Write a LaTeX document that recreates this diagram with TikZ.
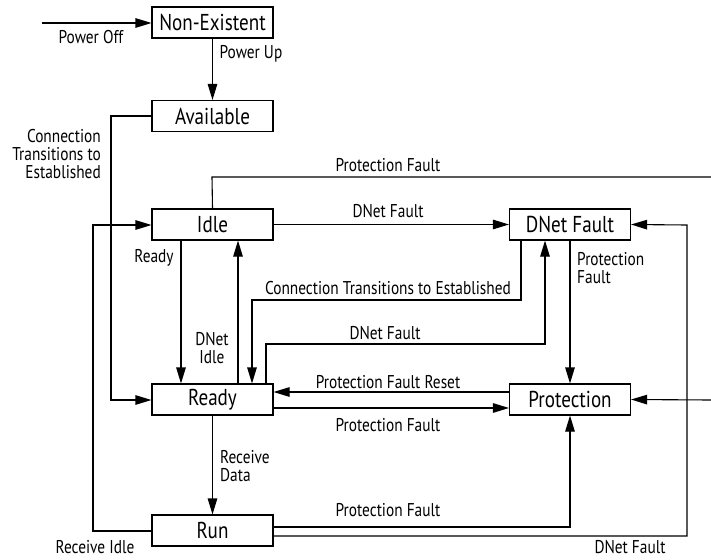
\documentclass[tikz,border=0pt]{standalone}
\usepackage{fontspec}
\setmainfont[FakeStretch=0.83]{PT Sans}
\usetikzlibrary{arrows.meta}
\tikzset{
  statebox/.style={draw, line width=1.1pt, minimum width=121pt, minimum height=31pt, inner sep=0pt, font=\fontsize{23}{25}\selectfont},
  lbl/.style={inner sep=0pt, font=\fontsize{18.5}{18}\selectfont},
  conn/.style={line width=1.1pt, -{Triangle[length=16pt,width=9.5pt]}},
  plain/.style={line width=1.1pt}
}
\begin{document}
\begin{tikzpicture}[x=1pt,y=-1pt]
\useasboundingbox (0,0) rectangle (711,559);
% states
\node[statebox] (ne) at (212.5,22.5) {Non-Existent};
\node[statebox] (av) at (212.5,116) {Available};
\node[statebox] (id) at (212.5,224.5) {Idle};
\node[statebox] (rd) at (212.5,399.5) {Ready};
\node[statebox] (rn) at (212.5,530.5) {Run};
\node[statebox] (df) at (570,224.5) {DNet Fault};
\node[statebox] (pr) at (570,399.5) {Protection};
% free ends
\coordinate (poweroff) at (42,23);
\coordinate (rtop) at (711,177);
\coordinate (rmid) at (711,400);
% connectors
\draw[conn] (poweroff) -- (ne.west |- poweroff);
\draw[conn] (ne.south) -- (av.north);
\draw[conn] (av.west) -- (111,116) -- (111,400) -- (rd.west |- 0,400);
\draw[plain] (id.north) -- (212,177) -- (rtop);
\draw[conn] (id.east) -- (df.west);
\draw[conn] (rn.west |- 0,531) -- (93,531) -- (93,225) -- (id.west |- 0,225);
\draw[conn] (id.south -| 181,0) -- (rd.north -| 181,0);
\draw[conn] (rd.north -| 238,0) -- (id.south -| 238,0);
\draw[conn] (df.south -| 521,0) -- (521,300) -- (252,300) -- (rd.north -| 252,0);
\draw[conn] (rd.north -| 266,0) -- (266,344) -- (545,344) -- (df.south -| 545,0);
\draw[conn] (df.south) -- (pr.north);
\draw[conn] (pr.west |- 0,392) -- (rd.east |- 0,392);
\draw[conn] (rd.east |- 0,408) -- (pr.west |- 0,408);
\draw[conn] (rd.south) -- (rn.north);
\draw[conn] (rn.east |- 0,527) -- (570,527) -- (pr.south);
\draw[conn] (rn.east |- 0,536) -- (687,536) -- (687,225) -- (df.east);
\draw[conn] (rmid) -- (pr.east);
% labels
\node[lbl] (l1) at (91,37) {Power Off};
\node[lbl] (l2) at (251,54) {Power Up};
\node[lbl, anchor=east, align=right] (l3) at (101,154) {Connection\\Transitions to\\Established};
\node[lbl] (l4) at (388,165) {Protection Fault};
\node[lbl] (l5) at (388,211) {DNet Fault};
\node[lbl] (l6) at (154,258) {Ready};
\node[lbl, align=center] (l7) at (212,348) {DNet\\Idle};
\node[lbl] (l8) at (388,288) {Connection Transitions to Established};
\node[lbl] (l9) at (385,333) {DNet Fault};
\node[lbl, anchor=west, align=left] (l10) at (577,268) {Protection\\Fault};
\node[lbl] (l11) at (388,382) {Protection Fault Reset};
\node[lbl] (l12) at (388,425) {Protection Fault};
\node[lbl, anchor=west, align=left] (l13) at (220,466) {Receive\\Data};
\node[lbl] (l14) at (388,510) {Protection Fault};
\node[lbl] (l15) at (95,547) {Receive Idle};
\node[lbl] (l16) at (630,547) {DNet Fault};
\end{tikzpicture}
\end{document}
